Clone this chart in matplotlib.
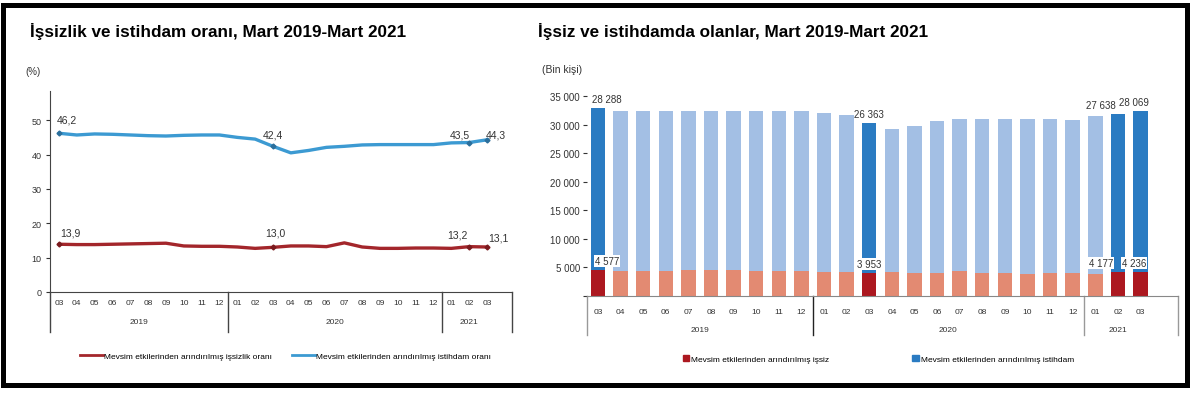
import matplotlib.pyplot as plt
import matplotlib.transforms as mtransforms
from matplotlib.patches import Rectangle
from matplotlib.lines import Line2D
from matplotlib.ticker import FuncFormatter

plt.rcParams['font.family'] = ['Liberation Sans', 'DejaVu Sans']

# category axis: Mart 2019 - Mart 2021
months = ['03', '04', '05', '06', '07', '08', '09', '10', '11', '12',
          '01', '02', '03', '04', '05', '06', '07', '08', '09', '10', '11', '12',
          '01', '02', '03']
years = ['2019', '2020', '2021']
year_counts = [10, 12, 3]

# left chart (%), seasonally adjusted
unemployment_rate = [13.9, 13.8, 13.8, 13.9, 14.0, 14.1, 14.2, 13.4, 13.3, 13.3,
                     13.1, 12.7, 13.0, 13.4, 13.4, 13.2, 14.3, 13.1, 12.7, 12.7,
                     12.8, 12.8, 12.7, 13.2, 13.1]
employment_rate = [46.2, 45.7, 46.0, 45.9, 45.7, 45.5, 45.4, 45.6, 45.7, 45.7,
                   45.0, 44.5, 42.4, 40.5, 41.2, 42.1, 42.4, 42.8, 42.9, 42.9,
                   42.9, 42.9, 43.4, 43.5, 44.3]

# right chart (thousand persons), seasonally adjusted
unemployed = [4577, 4420, 4430, 4450, 4480, 4500, 4520, 4430, 4330, 4300,
              4250, 4150, 3953, 4120, 4100, 4100, 4300, 4050, 3950, 3900,
              3950, 3950, 3900, 4177, 4236]
employed = [28288, 27980, 27970, 27950, 27920, 27790, 27770, 27860, 28070, 28100,
            27750, 27440, 26363, 25080, 25690, 26610, 26650, 26900, 27000, 27110,
            27060, 26880, 27630, 27638, 28069]

highlight = [0, 12, 23, 24]

RED_LINE = '#a3262b'
BLUE_LINE = '#3c9ad2'
DARK_BLUE = '#2a7bc2'
LIGHT_BLUE = '#a3bfe4'
DARK_RED = '#ac1820'
LIGHT_RED = '#e38a72'
TXT = '#333333'

W, H = 1200, 402
fig = plt.figure(figsize=(12, 4.02), dpi=100)


def px_axes(left, right, top, bottom):
    return fig.add_axes([left / W, 1 - bottom / H, (right - left) / W, (bottom - top) / H])


def category_axis(ax, xmax, month_y, year_y, sep_y, sep_colors, fs):
    trans = mtransforms.blended_transform_factory(ax.transData, ax.transAxes)
    ax.set_xticks([])
    for i, m in enumerate(months):
        ax.text(i, month_y, m, transform=trans, ha='center', va='center',
                fontsize=fs, color=TXT)
    start = -0.5
    bounds = [start]
    for y, n in zip(years, year_counts):
        end = start + n
        bounds.append(end)
        ax.text((start + end) / 2, year_y, y, transform=trans, ha='center',
                va='center', fontsize=fs, color=TXT)
        start = end
    bounds[-1] = xmax
    for b, c in zip(bounds, sep_colors):
        ax.plot([b, b], [0, sep_y], transform=trans, color=c, lw=1.0,
                clip_on=False)


# ---------------- left chart ----------------
ax1 = px_axes(50, 512, 92, 293)
x = list(range(len(months)))
ax1.plot(x, employment_rate, color=BLUE_LINE, lw=2.4, solid_capstyle='round')
ax1.plot(x, unemployment_rate, color=RED_LINE, lw=2.4, solid_capstyle='round')
ax1.plot(highlight, [employment_rate[i] for i in highlight], ls='none',
         marker='D', ms=2.5, color='#2b6f9c')
ax1.plot(highlight, [unemployment_rate[i] for i in highlight], ls='none',
         marker='D', ms=2.5, color='#7a1a1e')
xmax1 = 25.4
ax1.set_xlim(-0.5, xmax1)
ax1.set_ylim(0, 58.5)
ax1.set_yticks([0, 10, 20, 30, 40, 50])
ax1.tick_params(axis='y', labelsize=6.5, colors=TXT, length=3, width=0.8, pad=3)
for s in ['top', 'right']:
    ax1.spines[s].set_visible(False)
ax1.spines['left'].set_color('#444444')
ax1.spines['bottom'].set_color('#444444')
category_axis(ax1, xmax1, -0.05, -0.145, -0.2,
              ['#444444', '#444444', '#444444', '#444444'], 6)

blue_off = {0: (6, 10), 12: (0, 8.6), 23: (-7, 6), 24: (6.5, 3.5)}
red_off = {0: (8, 8.7), 12: (1.5, 11), 23: (-8.6, 8.4), 24: (8, 7)}
for i in highlight:
    ax1.annotate(f'{employment_rate[i]:.1f}'.replace('.', ','),
                 (i, employment_rate[i]), xytext=blue_off[i],
                 textcoords='offset points', ha='center', va='center',
                 fontsize=7.5, color=TXT)
    ax1.annotate(f'{unemployment_rate[i]:.1f}'.replace('.', ','),
                 (i, unemployment_rate[i]), xytext=red_off[i],
                 textcoords='offset points', ha='center', va='center',
                 fontsize=7.5, color=TXT)

ax1.legend(handles=[Line2D([], [], color=RED_LINE, lw=2),
                    Line2D([], [], color=BLUE_LINE, lw=2)],
           labels=['Mevsim etkilerinden arındırılmış işsizlik oranı',
                   'Mevsim etkilerinden arındırılmış istihdam oranı'],
           loc='center', bbox_to_anchor=(0.51, -0.32), ncol=2, frameon=False,
           fontsize=6, handlelength=2.8, handletextpad=0.1, columnspacing=2.4)

fig.text(30 / W, 1 - 32 / H, 'İşsizlik ve istihdam oranı, Mart 2019-Mart 2021',
         fontsize=12.3, fontweight='bold', va='center', ha='left')
fig.text(25 / W, 1 - 72 / H, '(%)', fontsize=7, va='center', ha='left', color=TXT)

# ---------------- right chart ----------------
ax2 = px_axes(586.7, 1178, 97, 297)
totals = [u + e for u, e in zip(unemployed, employed)]
red_colors = [DARK_RED if i in highlight else LIGHT_RED for i in x]
blue_colors = [DARK_BLUE if i in highlight else LIGHT_BLUE for i in x]
ax2.bar(x, unemployed, width=0.64, color=red_colors)
ax2.bar(x, employed, bottom=unemployed, width=0.64, color=blue_colors)
xmax2 = 25.66
ax2.set_xlim(-0.5, xmax2)
ax2.set_ylim(0, 35000)
ax2.set_yticks(range(0, 35001, 5000))
ax2.yaxis.set_major_formatter(FuncFormatter(
    lambda v, p: '' if v == 0 else f'{int(v):,}'.replace(',', ' ')))
ax2.tick_params(axis='y', labelsize=7, colors=TXT, length=3, width=0.8, pad=2)
for s in ['top', 'right', 'left']:
    ax2.spines[s].set_visible(False)
ax2.spines['bottom'].set_color('#888888')
category_axis(ax2, xmax2, -0.075, -0.165, -0.195,
              ['#999999', '#222222', '#999999', '#999999'], 6)

lab_dx = {0: 0.4, 12: 0.0, 23: -0.75, 24: -0.3}
for i in highlight:
    ax2.annotate(f'{employed[i]:,}'.replace(',', ' '), (i + lab_dx[i], totals[i]),
                 xytext=(0, 3), textcoords='offset points', ha='center',
                 va='bottom', fontsize=7, color=TXT, annotation_clip=False)
    ax2.annotate(f'{unemployed[i]:,}'.replace(',', ' '),
                 (i + lab_dx[i], unemployed[i]), xytext=(0, 3),
                 textcoords='offset points', ha='center', va='bottom',
                 fontsize=7, color=TXT,
                 bbox=dict(boxstyle='square,pad=0.1', fc='white', ec='none'))

ax2.legend(handles=[Rectangle((0, 0), 1, 1, color=DARK_RED),
                    Rectangle((0, 0), 1, 1, color=DARK_BLUE)],
           labels=['Mevsim etkilerinden arındırılmış işsiz',
                   'Mevsim etkilerinden arındırılmış istihdam'],
           loc='center', bbox_to_anchor=(0.493, -0.315), ncol=2, frameon=False,
           fontsize=6, handlelength=0.8, handleheight=0.8, handletextpad=0.2,
           columnspacing=10)

fig.text(538 / W, 1 - 32 / H, 'İşsiz ve istihdamda olanlar, Mart 2019-Mart 2021',
         fontsize=12.3, fontweight='bold', va='center', ha='left')
fig.text(542 / W, 1 - 70 / H, '(Bin kişi)', fontsize=7.5, va='center', ha='left',
         color=TXT)

# outer frame
fig.patches.append(Rectangle((2.5 / W, 1 - 385.5 / H), 1184.5 / W, 380 / H,
                             transform=fig.transFigure, fill=False,
                             ec='black', lw=3.6))

fig.savefig('out.png', dpi=100)
